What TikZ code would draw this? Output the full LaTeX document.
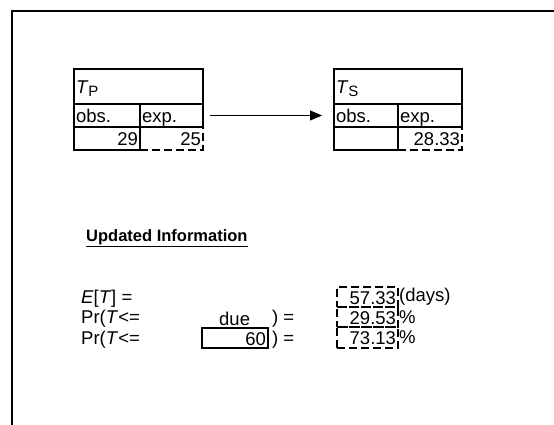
\documentclass[tikz,border=0pt]{standalone}
\usepackage{fontspec}
\setmainfont{Liberation Sans}
\usetikzlibrary{arrows.meta,positioning}
\newcommand{\tabfont}{\fontsize{18.5}{20}\selectfont}
\newcommand{\Tsub}[1]{\textit{T}\raisebox{-3pt}{\fontsize{15}{17}\selectfont #1}}
\tikzset{
  framerule/.style={line width=1.2pt,draw=black},
  cellbox/.style={draw,line width=1.1pt,inner xsep=2pt,inner ysep=0pt,outer sep=0pt,anchor=north west,minimum height=23pt,text width=#1,align=left,text height=14.5pt,text depth=0pt,font=\tabfont},
  headbox/.style={cellbox=#1,minimum height=35pt},
  valsolid/.style={cellbox=#1,align=right,line width=2.4pt},
  valdash/.style={cellbox=#1,align=right,line width=2.6pt,dash pattern=on 8pt off 4pt,minimum height=20pt},
  plaintext/.style={inner sep=1pt,anchor=west,font=\tabfont},
  flowarrow/.style={-{Triangle[length=12pt,width=10pt]},line width=0.9pt,shorten <=7pt,shorten >=12pt}
}
\begin{document}
\begin{tikzpicture}[x=1pt,y=-1pt]
  \useasboundingbox (0,0) rectangle (554,425);
  \coordinate (frameNE) at (554,11);
  \coordinate (frameNW) at (12,11);
  \coordinate (frameSW) at (12,425);
  \draw[framerule] (frameNE) -- (frameNW) -- (frameSW);

  % table for T_P
  \node[headbox=125pt] (tpHead) at (74,69) {\Tsub{P}};
  \node[cellbox=62pt] (tpObs) at (tpHead.south west) {obs.};
  \node[cellbox=59pt] (tpExp) at (tpObs.north east) {exp.};
  \node[valsolid=62pt] (tpObsVal) at (tpObs.south west) {29};
  \node[valdash=59pt,minimum height=23pt] (tpExpVal) at (tpObsVal.north east) {25};

  % table for T_S
  \node[headbox=124pt] (tsHead) at (334,69) {\Tsub{S}};
  \node[cellbox=60pt] (tsObs) at (tsHead.south west) {obs.};
  \node[cellbox=60pt] (tsExp) at (tsObs.north east) {exp.};
  \node[valsolid=60pt] (tsObsVal) at (tsObs.south west) {};
  \node[valdash=60pt,minimum height=23pt] (tsExpVal) at (tsObsVal.north east) {28.33};

  \draw[flowarrow] (tpExp.east) -- (tsObs.west);

  \node[plaintext,font=\fontsize{16.5}{19}\selectfont\bfseries] (updHead) at (85,238) {\underline{Updated Information}};

  % results
  \node[plaintext] (meanLbl) at (80,299) {\textit{E}[\textit{T}] =};
  \node[plaintext] (dueProbLbl) at (80,319) {Pr(\textit{T}<=};
  \node[plaintext] (dayProbLbl) at (80,340) {Pr(\textit{T}<=};
  \node[plaintext] (dueLbl) at (218,319) {due};
  \node[valsolid=62pt,minimum height=20pt] (dayBox) at (202,328) {60};
  \node[plaintext] (dueClose) at (271,319) {) =};
  \node[plaintext] (dayClose) at (271,340) {) =};

  \node[valdash=57pt] (meanBox) at (337,287) {57.33};
  \node[valdash=57pt] (dueBox) at (meanBox.south west) {29.53};
  \node[valdash=57pt,minimum height=21pt] (dayProbBox) at (dueBox.south west) {73.13};
  \node[plaintext,anchor=west] (daysUnit) at (meanBox.east) {(days)};
  \node[plaintext,anchor=west] (dueUnit) at (dueBox.east) {\%};
  \node[plaintext,anchor=west] (dayUnit) at (dayProbBox.east) {\%};
\end{tikzpicture}
\end{document}
